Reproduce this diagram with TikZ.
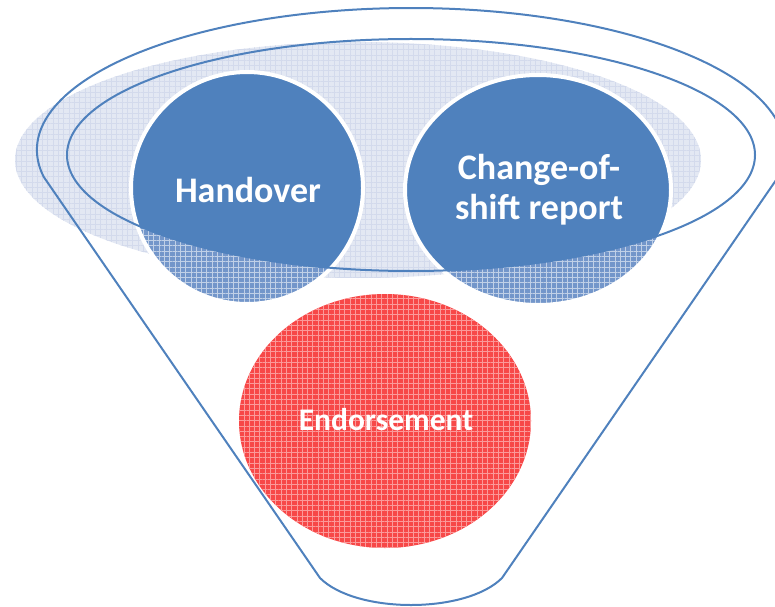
\documentclass[tikz,border=0pt]{standalone}
\usepackage{fontspec}
\setmainfont{Carlito}
\usetikzlibrary{patterns.meta}

\definecolor{funnelblue}{HTML}{4F81BD}
\definecolor{hazeblue}{HTML}{E3E8F3}
\definecolor{hazegrid}{HTML}{D3DAEC}
\definecolor{softblue}{HTML}{7396CA}
\definecolor{softred}{HTML}{F74848}

\tikzset{
  funnelline/.style={draw=funnelblue, line width=2pt, line join=round},
  gridtex/.style={pattern={Hatch[distance=5.3pt, angle=0, line width=0.55pt]}, pattern color=#1},
  ringedge/.style={draw=white, line width=4pt},
  ringtext/.style={text=white, font=\bfseries\fontsize{#1}{40}\selectfont, align=center, inner sep=0pt},
  ringtext/.default=36,
}

\begin{document}
\begin{tikzpicture}[x=1pt, y=1pt]
\useasboundingbox (0,0) rectangle (775,606);

% soft shadow ellipse behind the funnel mouth
\fill[hazeblue] (358,446) ellipse [x radius=343, y radius=118];
\path[gridtex=hazegrid] (358,446) ellipse [x radius=343, y radius=118];

% circles: lighter, textured base
\fill[softblue] (247,418) ellipse [x radius=116, y radius=116];
\fill[softblue] (538,416) ellipse [x radius=133, y radius=115];
\fill[softred]  (385,185) ellipse [x radius=146, y radius=127];
\path[gridtex=white!55!softblue] (247,418) ellipse [x radius=116, y radius=116];
\path[gridtex=white!55!softblue] (538,416) ellipse [x radius=133, y radius=115];
\path[gridtex=white!45!softred] (385,185) ellipse [x radius=146, y radius=127];

% parts of the circles inside the funnel mouth are solid
\begin{scope}
  \clip (411,451) ellipse [x radius=344, y radius=116];
  \fill[funnelblue] (247,418) ellipse [x radius=116, y radius=116];
  \fill[funnelblue] (538,416) ellipse [x radius=133, y radius=115];
\end{scope}

% white rims
\draw[ringedge] (247,418) ellipse [x radius=116, y radius=116];
\draw[ringedge] (538,416) ellipse [x radius=133, y radius=115];

% funnel outline
\coordinate (lefttop) at (43.8,429);
\coordinate (leftbot) at (320,28);
\coordinate (rightbot) at (502,28);
\coordinate (righttop) at (778.2,429);
\draw[funnelline] (lefttop)
  arc [start angle=190.96, end angle=-10.96, x radius=374, y radius=142]
  -- (rightbot)
  .. controls (466,-8) and (356,-8) .. (leftbot)
  -- cycle;
\draw[funnelline] (411,451) ellipse [x radius=344, y radius=116];

% labels
\node[ringtext] (handover) at (248,416) {Handover};
\node[ringtext] (shift) at (539,416) {Change-of-\\shift report};
\node[ringtext=31.5] (endorse) at (386,186) {Endorsement};
\end{tikzpicture}
\end{document}
